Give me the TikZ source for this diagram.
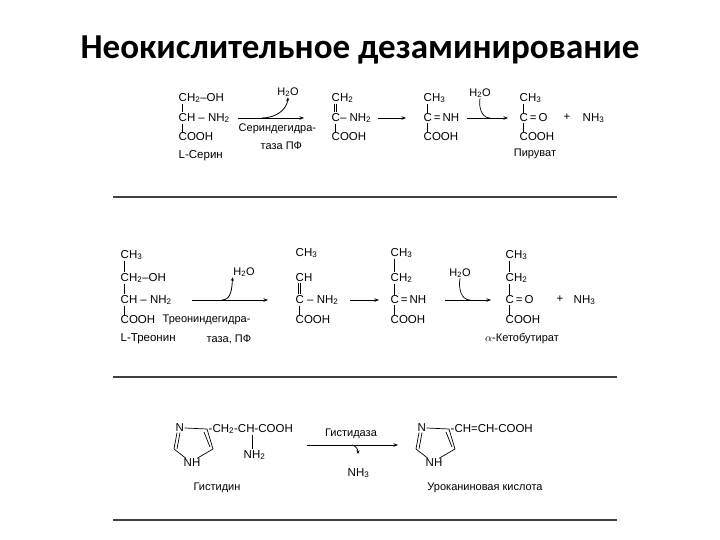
\documentclass[tikz,border=0pt]{standalone}
\usepackage{fontspec}
\setmainfont{Liberation Sans}
\newfontfamily\titlefont{Carlito}
\usetikzlibrary{arrows.meta,calc}
\newcommand\chs[1]{\textsubscript{#1}}
\begin{document}
\begin{tikzpicture}[x=1pt,y=-1pt,
  ch/.style={anchor=west,inner sep=0.5pt,font=\fontsize{11.5}{13}\selectfont},
  lab/.style={inner sep=0.5pt,font=\fontsize{11}{12}\selectfont},
  rxn/.style={-{Stealth[length=4.5pt,width=3.5pt]},line width=0.8pt},
  cur/.style={-{Stealth[length=3.5pt,width=3pt]},line width=0.8pt},
  bnd/.style={line width=0.7pt},
  sep/.style={line width=1.1pt,draw=black!75}]
\useasboundingbox (0,0) rectangle (720,540);
\node[font=\titlefont\bfseries\fontsize{35}{38}\selectfont] (title) at (360,50) {Неокислительное дезаминирование};
% separators
\coordinate (l1a) at (113,197); \coordinate (l1b) at (617,197);
\coordinate (l2a) at (113,377); \coordinate (l2b) at (617,377);
\coordinate (l3a) at (113,520); \coordinate (l3b) at (617,520);
\draw[sep] (l1a)--(l1b); \draw[sep] (l2a)--(l2b); \draw[sep] (l3a)--(l3b);
% ===== Serine =====
\node[ch] (s1) at (178,98) {CH\chs2–OH};
\node[ch] (s2) at (178,118) {CH – NH\chs2};
\node[ch] (s3) at (178,137) {COOH};
\node[ch] (s4) at (178,156) {L-Серин};
\draw[bnd] ([xshift=4pt]s1.south west)--([xshift=4pt]s2.north west);
\draw[bnd] ([xshift=4pt]s2.south west)--([xshift=4pt]s3.north west);
\coordinate (a1s) at (238,118); \coordinate (a1e) at (304,118);
\draw[rxn] (a1s)--(a1e);
\node[lab] (w1) at (288,92) {H\chs2O};
\coordinate (c1) at (262,118);
\draw[cur] (c1) to[out=0,in=-95] (w1.south);
\node[lab,anchor=west] (e1a) at (238,129) {Сериндегидра-};
\node[lab,anchor=west] (e1b) at (260,146) {таза ПФ};
\node[ch] (p1) at (331,98) {CH\chs2};
\node[ch] (p2) at (331,118) {C– NH\chs2};
\node[ch] (p3) at (331,137) {COOH};
\draw[bnd] ([xshift=3pt]p1.south west)--([xshift=3pt]p2.north west);
\draw[bnd] ([xshift=5pt]p1.south west)--([xshift=5pt]p2.north west);
\draw[bnd] ([xshift=4pt]p2.south west)--([xshift=4pt]p3.north west);
\coordinate (a2s) at (378,118); \coordinate (a2e) at (406,118);
\draw[rxn] (a2s)--(a2e);
\node[ch] (q1) at (423,98) {CH\chs3};
\node[ch] (q2) at (423,118) {C\,=\,NH};
\node[ch] (q3) at (423,137) {COOH};
\draw[bnd] ([xshift=4pt]q1.south west)--([xshift=4pt]q2.north west);
\draw[bnd] ([xshift=4pt]q2.south west)--([xshift=4pt]q3.north west);
\coordinate (a3s) at (467,118); \coordinate (a3e) at (508,118);
\draw[rxn] (a3s)--(a3e);
\node[lab] (w2) at (480,93) {H\chs2O};
\coordinate (c2) at (490,118);
\draw[bnd] (w2.south) to[out=-100,in=180] (c2);
\node[ch] (r1) at (519,98) {CH\chs3};
\node[ch] (r2) at (519,118) {C\,=\,O};
\node[ch] (r3) at (519,137) {COOH};
\node[lab] (r4) at (535,154) {Пируват};
\draw[bnd] ([xshift=4pt]r1.south west)--([xshift=4pt]r2.north west);
\draw[bnd] ([xshift=4pt]r2.south west)--([xshift=4pt]r3.north west);
\node[ch] (plus1) at (563,117) {+};
\node[ch] (n1) at (582,118) {NH\chs3};
% ===== Threonine =====
\node[ch] (t0) at (120,255) {CH\chs3};
\node[ch] (t1) at (120,278) {CH\chs2–OH};
\node[ch] (t2) at (120,300) {CH – NH\chs2};
\node[ch] (t3) at (120,320) {COOH};
\node[ch] (t4) at (120,339) {L-Треонин};
\draw[bnd] ([xshift=4pt]t0.south west)--([xshift=4pt]t1.north west);
\draw[bnd] ([xshift=4pt]t1.south west)--([xshift=4pt]t2.north west);
\draw[bnd] ([xshift=4pt]t2.south west)--([xshift=4pt]t3.north west);
\coordinate (b1s) at (192,300); \coordinate (b1e) at (268,300);
\draw[rxn] (b1s)--(b1e);
\node[lab] (w3) at (244,272) {H\chs2O};
\coordinate (c3) at (222,300);
\draw[cur] (c3) to[out=0,in=-95] (w3.south west);
\node[lab,anchor=west] (e2a) at (162,320) {Треониндегидра-};
\node[lab,anchor=west] (e2b) at (206,339) {таза, ПФ};
\node[ch] (u0) at (295,253) {CH\chs3};
\node[ch] (u1) at (295,278) {CH};
\node[ch] (u2) at (295,300) {C – NH\chs2};
\node[ch] (u3) at (295,320) {COOH};
\draw[bnd] ([xshift=3pt]u1.south west)--([xshift=3pt]u2.north west);
\draw[bnd] ([xshift=5pt]u1.south west)--([xshift=5pt]u2.north west);
\draw[bnd] ([xshift=4pt]u2.south west)--([xshift=4pt]u3.north west);
\coordinate (b2s) at (350,300); \coordinate (b2e) at (379,300);
\draw[rxn] (b2s)--(b2e);
\node[ch] (v0) at (390,253) {CH\chs3};
\node[ch] (v1) at (390,278) {CH\chs2};
\node[ch] (v2) at (390,300) {C\,=\,NH};
\node[ch] (v3) at (390,320) {COOH};
\draw[bnd] ([xshift=4pt]v0.south west)--([xshift=4pt]v1.north west);
\draw[bnd] ([xshift=4pt]v1.south west)--([xshift=4pt]v2.north west);
\draw[bnd] ([xshift=4pt]v2.south west)--([xshift=4pt]v3.north west);
\coordinate (b3s) at (445,300); \coordinate (b3e) at (491,300);
\draw[rxn] (b3s)--(b3e);
\node[lab] (w4) at (460,273) {H\chs2O};
\coordinate (c4) at (470,300);
\draw[bnd] (w4.south) to[out=-100,in=180] (c4);
\node[ch] (x0) at (505,255) {CH\chs3};
\node[ch] (x1) at (505,278) {CH\chs2};
\node[ch] (x2) at (505,300) {C\,=\,O};
\node[ch] (x3) at (505,320) {COOH};
\node[lab] (x4) at (522,339) {$\alpha$-Кетобутират};
\draw[bnd] ([xshift=4pt]x0.south west)--([xshift=4pt]x1.north west);
\draw[bnd] ([xshift=4pt]x1.south west)--([xshift=4pt]x2.north west);
\draw[bnd] ([xshift=4pt]x2.south west)--([xshift=4pt]x3.north west);
\node[ch] (plus2) at (556,299) {+};
\node[ch] (n2) at (573,300) {NH\chs3};
% ===== Histidine =====
\node[ch] (h1) at (175,428) {N};
\coordinate (h2) at (207,429);
\coordinate (h3) at (213,449);
\node[ch] (h4) at (183,463) {NH};
\coordinate (h5) at (174,449);
\draw[bnd] (h1.east)--(h2);
\draw[bnd] (h2)--(h3); \draw[bnd] ($(h2)+(-3,3)$)--($(h3)+(-3,-2)$);
\draw[bnd] (h3)--([xshift=-4pt]h4.north east);
\draw[bnd] ([xshift=3pt]h4.north west)--(h5);
\draw[bnd] (h5)--([xshift=2pt]h1.south west); \draw[bnd] ($(h5)+(3,0)$)--([xshift=5pt]h1.south west);
\node[ch] (h6) at (208,429) {-CH\chs2-CH-COOH};
\node[ch] (h7) at (243,455) {NH\chs2};
\draw[bnd] (252,435)--([xshift=9pt]h7.north west);
\node[lab] (h8) at (217,488) {Гистидин};
\coordinate (d1s) at (307,445); \coordinate (d1e) at (398,445);
\draw[rxn] (d1s)--(d1e);
\node[lab] (e3) at (351,434) {Гистидаза};
\node[ch] (n3) at (347,473) {NH\chs3};
\coordinate (c5) at (352,445);
\draw[cur] (c5) to[out=-10,in=90] ($(c5)+(6,9)$);
\node[ch] (k1) at (417,428) {N};
\coordinate (k2) at (449,429);
\coordinate (k3) at (455,449);
\node[ch] (k4) at (425,463) {NH};
\coordinate (k5) at (416,449);
\draw[bnd] (k1.east)--(k2);
\draw[bnd] (k2)--(k3); \draw[bnd] ($(k2)+(-3,3)$)--($(k3)+(-3,-2)$);
\draw[bnd] (k3)--([xshift=-4pt]k4.north east);
\draw[bnd] ([xshift=3pt]k4.north west)--(k5);
\draw[bnd] (k5)--([xshift=2pt]k1.south west); \draw[bnd] ($(k5)+(3,0)$)--([xshift=5pt]k1.south west);
\node[ch] (k6) at (450,429) {-CH=CH-COOH};
\node[lab] (k8) at (485,488) {Уроканиновая кислота};
\end{tikzpicture}
\end{document}
